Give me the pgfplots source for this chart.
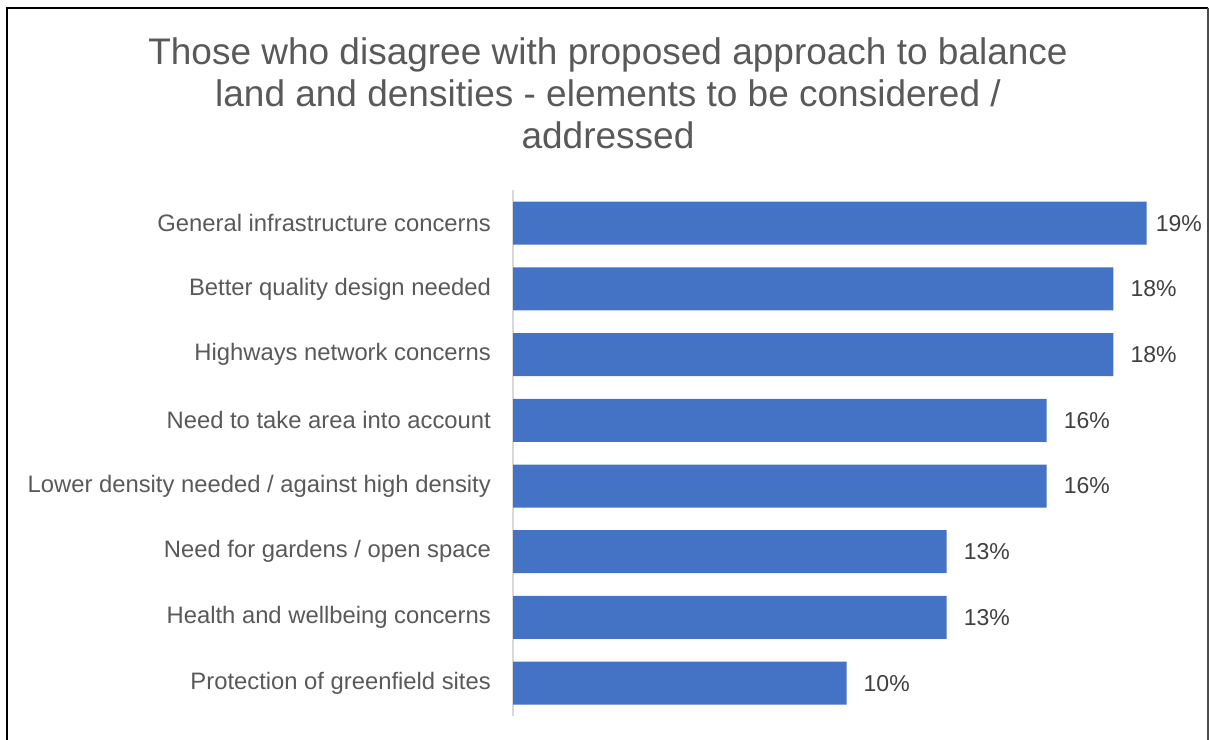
\documentclass[border=0pt]{standalone}
\usepackage{pgfplots}
\pgfplotsset{compat=1.18}
\usepackage{fontspec}
\setmainfont{Liberation Sans}
\definecolor{barblue}{HTML}{4472C4}
\definecolor{titlegray}{HTML}{595959}
\definecolor{valgray}{HTML}{404040}
\definecolor{axgray}{HTML}{D9D9D9}
\begin{document}
\begin{tikzpicture}[x=1bp,y=1bp]
\useasboundingbox (0,0) rectangle (1209,740);
\begin{scope}
\clip (0,0) rectangle (1209,740);
\draw[line width=2bp,black] (7,-20) -- (7,732) -- (1208,732);
\draw[line width=1.5bp,black!70] (1208,732) -- (1208,-20);
\end{scope}
\node[anchor=north,align=center,inner sep=0pt,text=titlegray,font=\fontsize{37bp}{42bp}\selectfont] at (608,703)
  {Those who disagree with proposed approach to balance\\land and densities - elements to be considered /\\addressed};
\begin{axis}[
  at={(513bp,24bp)}, anchor=south west,
  scale only axis, width=667bp, height=525.7bp,
  xmin=0, xmax=20, ymin=-0.5, ymax=7.5,
  xbar, bar width=43bp,
  axis x line=none,
  axis y line*=left,
  y axis line style={draw=axgray,line width=1.5bp,-},
  ytick={0,...,7},
  yticklabels={Protection of greenfield sites,Health and wellbeing concerns,Need for gardens / open space,Lower density needed / against high density,Need to take area into account,Highways network concerns,Better quality design needed,General infrastructure concerns},
  major tick length=0pt,
  yticklabel style={font=\fontsize{23.8bp}{28bp}\selectfont,text=titlegray,inner sep=0pt,xshift=-22bp},
  /pgf/number format/assume math mode=true,
  point meta=x,
  visualization depends on={y \as \rowy},
  nodes near coords={\pgfmathprintnumber{\pgfplotspointmeta}\%},
  nodes near coords style={font=\fontsize{23bp}{27bp}\selectfont,text=valgray,anchor=west,inner sep=0pt,
    xshift={((\rowy>6.5)*9+(\rowy<6.5)*17)*1.00375}},
  clip=false,
]
\addplot[fill=barblue,draw=none] coordinates {(10,0) (13,1) (13,2) (16,3) (16,4) (18,5) (18,6) (19,7)};
\end{axis}
\end{tikzpicture}
\end{document}
